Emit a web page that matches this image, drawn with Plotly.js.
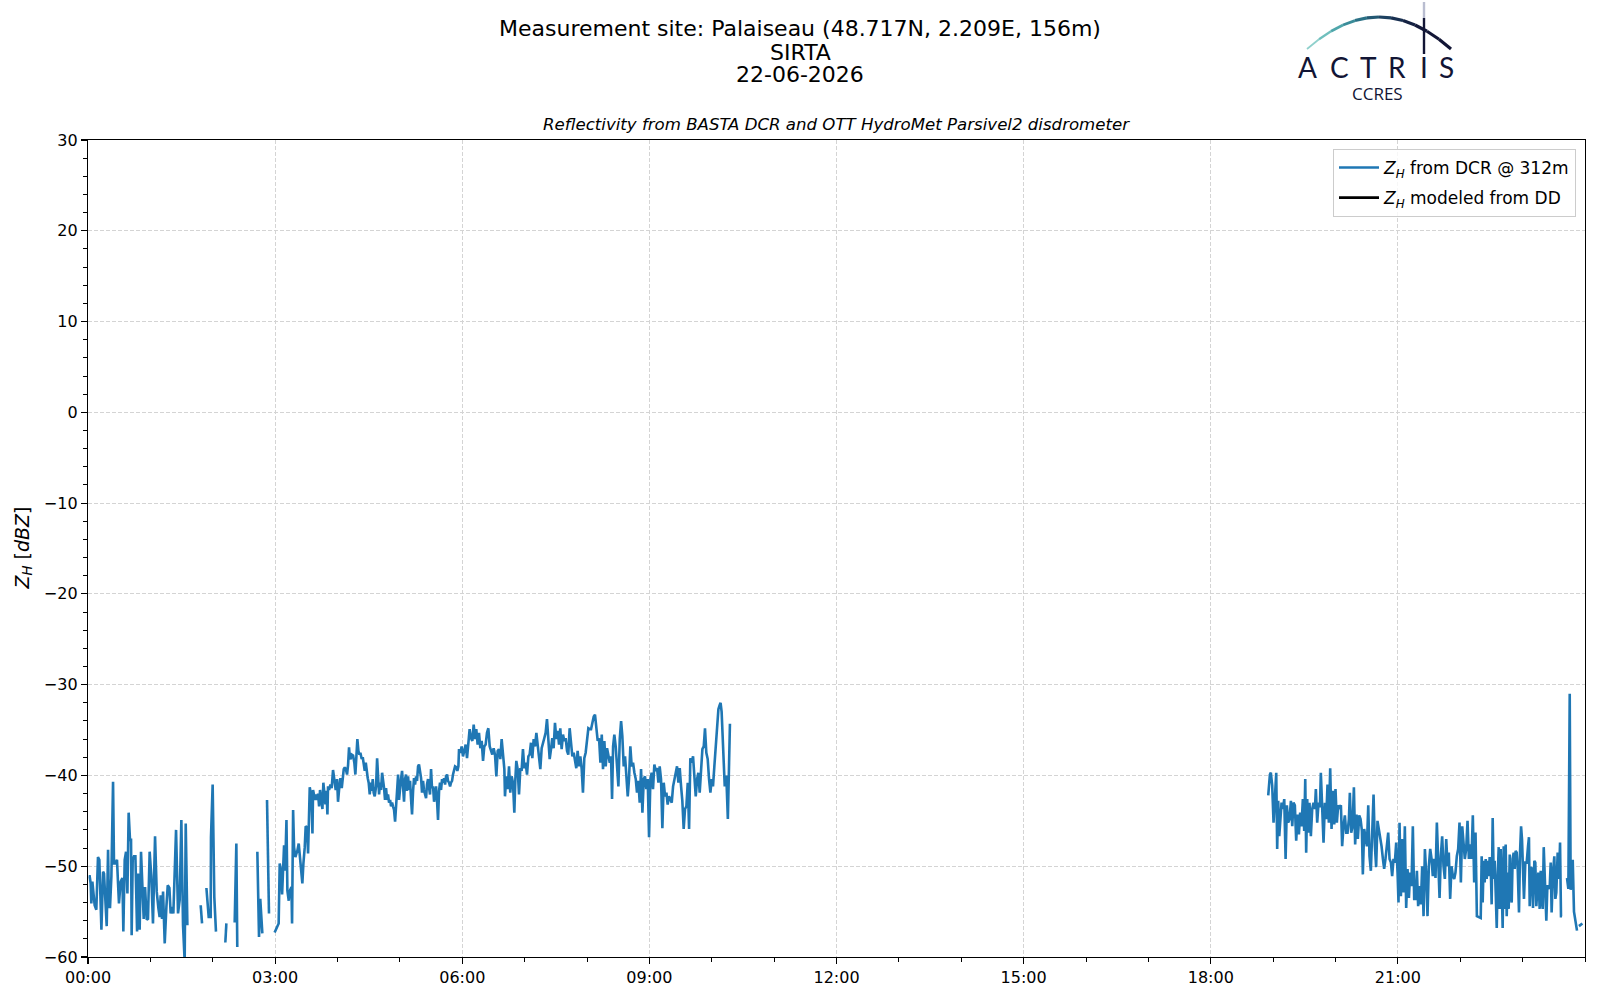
<!DOCTYPE html>
<html>
    <head>
        <meta charset="utf-8">
        <script src="https://cdn.plot.ly/plotly-3.0.1.min.js"></script>
        <style>
            body { margin: 0; background: white; }
        </style>
    </head>
    <body>
        <div id="plot"></div>
        <script type="text/javascript">
            // minutes after midnight, Z_H [dBZ]; null marks a gap in the radar record
            const earlyPairs = [
                [0.7,-51.1],[1.6,-51.1],[2.6,-51.9],[3.2,-54.1],[4.2,-51.7],[5.5,-53.0],[6.4,-54.3],[8.0,-54.8],
                [9.6,-49.0],[10.9,-49.3],[11.9,-53.4],[12.9,-57.0],[14.5,-50.6],[15.4,-50.8],[16.7,-53.7],[18.0,-56.6],
                [19.3,-48.2],[20.2,-54.5],[21.2,-54.5],[22.5,-51.1],[24.1,-40.7],[25.0,-49.7],[26.3,-49.7],[27.9,-49.3],
                [28.9,-51.9],[29.8,-54.1],[31.4,-51.7],[33.1,-51.3],[34.0,-57.2],[35.3,-49.3],[36.6,-48.4],[37.9,-53.0],
                [39.1,-44.1],[40.4,-47.1],[41.4,-47.1],[42.0,-57.6],[43.0,-49.3],[44.3,-48.9],[45.6,-48.9],[47.2,-57.2],
                [48.1,-50.8],[49.7,-57.0],[51.0,-48.4],[52.3,-52.6],[53.6,-55.8],[54.9,-52.3],[56.5,-55.9],[57.7,-55.8],
                [59.3,-48.4],[60.9,-51.1],[62.5,-56.3],[64.5,-46.7],[66.1,-52.8],[67.7,-54.6],[68.9,-55.6],[69.9,-53.2],
                [71.2,-55.8],[72.2,-52.8],[73.8,-58.5],[75.4,-54.5],[76.7,-52.1],[78.3,-52.4],[79.5,-55.2],[80.8,-54.5],
                [82.1,-55.2],[84.7,-46.0],[86.6,-55.2],[88.2,-53.7],[89.8,-44.9],[91.4,-56.5],[93.0,-60.5],[94.0,-45.3],
                [95.6,-56.5],[100,null],
                [108.4,-54.3],[109.7,-56.3],[111,null],
                [113.9,-52.4],[116.1,-55.6],[118.0,-55.6],[118.3,-46.8],[119.9,-41.0],[121.5,-53.4],[123.1,-57.2],[127,null],
                [132.1,-58.4],[133.1,-56.3],[137,null],
                [141.1,-56.2],[142.7,-47.5],[143.6,-58.9],[150,null],
                [162.9,-48.4],[164.5,-57.8],[165.7,-53.6],[167.7,-57.4],[170,null],
                [172.2,-42.7],[174.1,-55.2],[177,null]
            ];
            const risePairs = [
                [179.5,-57.3],[183.4,-56.3],[184.4,-49.7],[185.4,-50.3],[186.7,-53.1],[187.6,-50.5],[188.6,-47.7],[189.6,-50.5],
                [190.9,-44.9],[191.8,-52.7],[193.1,-53.8],[194.1,-52.7],[195.7,-52.3],[196.3,-56.3],[197.3,-43.8],[198.2,-47.9],
                [199.5,-49.0],[200.5,-48.6],[201.4,-48.3],[202.7,-47.5],[203.7,-48.6],[205.0,-50.1],[206.2,-51.9],[207.2,-49.7],
                [208.5,-47.9],[209.4,-45.6],[210.7,-45.7],[211.7,-48.6],[212.6,-42.7],[213.3,-41.3],[214.9,-42.3],[215.9,-46.4],
                [216.5,-41.6],[217.5,-42.1],[218.4,-42.7],[219.4,-42.1],[220.3,-42.7],[221.3,-42.0],[222.3,-43.4],[223.2,-41.6],
                [224.5,-42.7],[225.5,-43.7],[226.4,-40.8],[227.4,-42.3],[228.4,-43.2],[229.4,-41.7],[230.3,-44.3],[230.9,-41.2],
                [231.9,-41.6],[233.2,-41.0],[234.4,-41.4],[235.7,-39.4],[237.0,-40.8],[238.3,-41.6],[239.6,-40.4],[240.5,-42.9],
                [241.5,-41.6],[242.8,-40.3],[244.1,-41.4],[245.0,-40.4],[246.0,-39.3],[247.0,-39.1],[248.2,-39.4],[249.2,-39.9],
                [250.2,-38.8],[251.1,-36.9],[251.8,-38.0],[252.7,-38.2],[253.7,-37.7],[255.0,-37.8],[256.2,-38.6],[257.2,-39.9],
                [258.2,-38.4],[259.1,-36.0],[260.1,-37.3],[261.1,-37.7],[262.0,-37.5],[263.3,-38.2],[264.3,-38.0],[265.2,-39.0],
                [266.2,-39.5],[267.2,-38.6],[268.1,-39.7],[269.1,-40.3],[270.0,-40.8],[271.0,-42.1],[272.0,-40.8],[272.9,-41.7],
                [273.9,-40.4],[274.8,-41.9],[275.8,-42.3],[277.1,-41.2],[278.1,-38.1],[279.0,-40.4],[280.0,-42.1],[280.9,-40.8],
                [281.9,-41.6],[282.9,-39.7],[283.8,-40.3],[284.8,-41.4],[285.7,-42.7],[286.7,-41.4],[287.7,-42.7],[288.6,-42.1],
                [289.6,-43.0],[290.6,-42.7],[291.5,-43.4],[292.5,-43.0],[293.4,-43.4],[294.4,-43.8],[295.4,-45.1],[296.3,-43.4],
                [297.3,-42.7],[298.3,-39.9],[299.2,-42.7],[300.2,-41.2],[301.1,-40.4],[302.1,-39.5],[303.1,-41.2],[304.0,-42.9],
                [305.0,-40.4],[305.9,-39.9],[306.9,-41.7],[307.9,-40.1],[308.8,-41.6],[309.8,-40.6],[310.8,-42.7],[311.7,-44.3],
                [312.7,-41.7],[313.6,-40.3],[314.6,-41.0],[315.6,-40.1],[316.5,-40.6],[317.5,-39.0],[318.4,-38.8],[319.4,-39.5],
                [320.4,-40.3],[321.3,-41.9],[322.3,-40.6],[323.2,-41.6],[324.2,-42.3],[325.2,-42.5],[326.1,-41.0],[327.1,-40.4],
                [328.1,-41.4],[329.0,-42.1],[330.0,-39.3],[330.9,-41.4],[331.9,-41.2],[332.9,-42.9],[333.8,-42.1],[334.8,-41.2],
                [335.8,-42.9],[336.7,-44.9],[337.7,-41.7],[338.6,-40.8],[339.6,-41.6],[340.6,-40.4],[341.5,-40.8],[342.5,-40.3],
                [343.5,-41.0],[344.4,-40.1],[345.4,-39.9],[346.3,-40.6],[347.3,-40.8],[348.3,-41.2],[349.2,-40.8],[350.2,-40.6],
                [351.1,-39.9],[352.1,-39.5],[353.1,-39.0],[354.4,-39.1],[355.3,-39.5],[356.3,-39.0],[356.9,-37.1]
            ];
            const dayPairs = [
                [358.2,-37.5],[359.4,-36.8],[360.7,-37.9],[362.0,-37.3],[363.3,-36.6],[364.6,-38.1],[365.9,-36.4],[367.1,-34.9],
                [368.4,-35.9],[369.7,-36.2],[371.0,-34.4],[372.3,-36.0],[373.5,-34.9],[374.8,-36.6],[376.1,-35.3],[377.4,-37.0],
                [378.7,-36.2],[380.0,-38.4],[381.2,-36.8],[382.5,-36.6],[383.8,-35.3],[385.1,-34.8],[386.4,-36.8],[387.7,-37.3],
                [388.9,-37.7],[390.2,-37.0],[391.5,-37.7],[392.8,-40.1],[394.1,-37.3],[395.3,-37.1],[396.6,-38.2],[397.9,-36.0],
                [399.2,-37.9],[400.5,-39.3],[401.1,-42.3],[402.4,-40.1],[403.7,-41.5],[405.0,-39.0],[406.2,-41.9],[407.5,-40.1],
                [408.8,-40.8],[410.1,-44.1],[411.1,-40.4],[412.0,-38.4],[413.3,-39.3],[414.6,-42.1],[415.9,-39.2],[417.1,-39.5],
                [418.4,-37.1],[419.7,-39.2],[421.0,-38.6],[422.3,-39.9],[423.6,-37.9],[424.8,-37.7],[426.1,-36.4],[427.4,-38.1],
                [428.7,-36.0],[430.0,-36.8],[431.3,-35.3],[432.5,-36.8],[433.8,-37.9],[435.1,-39.3],[436.4,-37.0],[437.7,-36.2],
                [438.9,-35.9],[440.2,-35.3],[441.5,-33.8],[442.8,-36.0],[444.1,-38.2],[445.4,-37.1],[446.6,-35.9],[447.9,-37.0],
                [449.2,-34.2],[450.5,-36.0],[451.8,-35.1],[453.1,-36.6],[454.3,-34.8],[455.6,-37.1],[456.9,-35.5],[458.2,-36.2],
                [459.5,-35.9],[460.8,-37.3],[462.0,-37.7],[463.3,-34.8],[464.6,-36.4],[465.9,-37.9],[467.2,-37.5],[468.4,-38.4],
                [469.7,-39.2],[471.0,-37.3],[472.3,-39.0],[473.6,-37.9],[474.9,-39.3],[476.1,-41.9],[477.4,-38.1],[478.7,-37.5],
                [480.0,-35.7],[481.3,-34.8],[482.6,-34.9],[483.9,-34.9],[485.2,-34.2],[486.5,-33.5],[487.7,-33.3],[489.0,-34.6],
                [490.3,-36.2],[491.6,-35.9],[492.9,-38.6],[494.2,-35.5],[495.4,-39.3],[496.7,-36.2],[498.0,-39.0],[499.3,-37.0],
                [500.6,-38.1],[501.9,-38.6],[503.1,-37.9],[504.1,-42.6],[505.1,-36.8],[506.3,-35.5],[507.6,-36.8],[508.9,-38.6],
                [510.2,-41.2],[511.5,-36.0],[512.8,-34.0],[514.0,-35.7],[515.3,-39.0],[516.6,-37.9],[517.9,-40.1],[519.2,-42.3],
                [520.4,-40.4],[521.7,-36.8],[523.0,-39.0],[524.3,-38.6],[525.6,-39.7],[526.9,-40.4],[528.1,-41.9],[529.4,-40.6],
                [530.7,-43.0],[532.0,-39.3],[533.3,-44.1],[534.6,-40.4],[535.8,-40.1],[537.1,-41.5],[538.4,-40.4],[539.7,-46.8],
                [541.0,-40.4],[542.2,-39.7],[543.5,-41.5],[544.8,-38.8],[546.1,-39.5],[547.4,-39.2],[548.7,-40.8],[549.9,-39.0],
                [551.2,-40.4],[552.5,-45.8],[553.8,-40.8],[555.1,-42.3],[556.4,-41.9],[557.6,-43.2],[558.9,-42.3],[560.2,-42.6],
                [561.5,-43.0],[562.8,-41.2],[564.1,-40.4],[565.3,-40.1],[566.6,-39.0],[567.9,-40.8],[569.2,-39.2],[570.5,-41.2],
                [571.7,-42.8],[573.0,-45.9],[574.3,-43.7],[575.6,-43.4],[576.9,-40.8],[578.2,-45.9],[579.4,-38.1],[580.7,-38.6],
                [582.0,-37.9],[583.3,-40.1],[584.6,-42.3],[585.9,-40.4],[587.1,-39.7],[588.4,-41.9],[589.7,-38.6],[591.0,-37.1],
                [592.3,-36.8],[593.5,-34.8],[594.8,-37.5],[596.1,-38.2],[597.4,-40.4],[598.7,-41.9],[600.0,-40.4],[601.2,-41.2],
                [602.5,-39.0],[603.8,-37.1],[605.1,-34.9],[606.4,-32.7],[607.5,-32.3],[608.5,-32.0],[609.5,-33.0],[611.0,-38.0],
                [612.5,-41.2],[614.0,-40.0],[615.5,-44.8],[617.5,-34.3],[620,null]
            ];
            const eveningPairs = [
                [1135.3,-42.2],[1136.9,-39.9],[1137.8,-39.7],[1139.1,-41.1],[1140.4,-45.2],[1141.7,-43.0],[1143.0,-39.7],[1143.9,-48.1],
                [1144.9,-42.8],[1145.9,-46.7],[1146.8,-45.2],[1148.1,-43.0],[1149.4,-43.7],[1150.7,-42.6],[1152.0,-49.2],[1153.2,-43.3],
                [1154.5,-45.2],[1155.8,-44.8],[1157.1,-42.8],[1158.4,-45.6],[1159.6,-43.0],[1160.9,-43.3],[1162.2,-47.2],[1163.5,-44.3],
                [1164.8,-46.5],[1166.0,-44.1],[1167.3,-45.6],[1168.6,-42.6],[1169.9,-46.1],[1170.9,-40.4],[1171.8,-48.5],[1172.8,-42.6],
                [1173.7,-46.3],[1175.0,-43.0],[1176.3,-46.7],[1177.6,-43.7],[1178.9,-43.0],[1180.2,-43.7],[1181.1,-41.5],[1182.4,-45.2],
                [1183.7,-43.0],[1185.0,-43.5],[1185.9,-39.7],[1187.2,-44.8],[1188.5,-47.4],[1189.8,-43.0],[1191.1,-44.8],[1192.3,-41.0],
                [1193.6,-45.2],[1194.9,-39.2],[1196.2,-45.9],[1197.5,-41.7],[1198.8,-45.4],[1200.0,-41.5],[1201.3,-45.2],[1202.6,-43.3],
                [1203.9,-43.5],[1205.2,-43.3],[1206.4,-47.8],[1207.7,-45.6],[1209.0,-44.4],[1210.3,-46.3],[1211.6,-46.3],[1212.9,-44.8],
                [1213.8,-41.9],[1215.1,-46.3],[1216.4,-45.6],[1217.7,-41.3],[1218.9,-47.6],[1220.2,-44.3],[1221.5,-47.0],[1222.8,-44.4],
                [1224.1,-44.8],[1225.4,-46.1],[1226.3,-50.9],[1227.6,-45.9],[1228.9,-47.0],[1230.2,-47.8],[1231.5,-43.3],[1232.7,-48.9],
                [1234.0,-50.5],[1235.3,-47.0],[1236.6,-42.1],[1237.9,-47.8],[1239.1,-50.1],[1240.4,-45.0],[1241.7,-45.9],[1243.0,-47.2],
                [1244.3,-47.8],[1245.6,-49.2],[1246.8,-50.3],[1248.1,-49.2],[1249.4,-47.8],[1250.7,-46.3],[1252.0,-49.2],[1253.3,-49.6],
                [1254.5,-51.1],[1255.8,-49.2],[1257.1,-49.6],[1258.4,-47.4],[1259.7,-50.7],[1260.6,-54.0],[1261.6,-45.2],[1262.9,-53.3],
                [1264.2,-47.0],[1265.4,-52.9],[1266.7,-45.6],[1268.0,-54.6],[1269.3,-50.3],[1270.6,-53.5],[1271.8,-50.7],[1273.1,-52.2],
                [1274.4,-45.6],[1275.7,-53.6],[1277.0,-53.6],[1278.3,-50.5],[1279.5,-54.4],[1280.8,-52.2],[1282.1,-54.2],[1283.4,-50.0],
                [1284.7,-55.5],[1286.0,-48.1],[1287.2,-50.7],[1288.5,-55.5],[1289.8,-50.0],[1291.1,-48.1],[1292.4,-49.2],[1293.6,-51.1],
                [1294.9,-49.2],[1296.2,-51.3],[1297.5,-45.2],[1298.8,-50.0],[1300.1,-53.5],[1301.3,-48.9],[1302.6,-46.7],[1303.9,-50.0],
                [1305.2,-51.4],[1306.5,-47.0],[1307.8,-50.0],[1309.0,-48.5],[1310.3,-53.6],[1311.6,-50.0],[1312.9,-51.1],[1314.2,-51.4],
                [1315.4,-50.7],[1316.7,-48.9],[1318.0,-48.1],[1319.3,-45.2],[1320.6,-51.8],[1321.9,-45.6],[1323.1,-47.8],[1324.4,-49.2],
                [1325.7,-48.1],[1327.0,-45.0],[1328.3,-49.2],[1329.6,-47.6],[1330.8,-49.2],[1332.1,-44.4],[1333.4,-51.8],[1334.7,-46.3],
                [1336.0,-55.5]
            ];
            const latePairs = [
                [1339.7,-55.7],[1340.6,-48.9],[1341.6,-54.0],[1342.5,-49.4],[1343.5,-51.8],[1344.5,-49.2],[1345.4,-51.4],[1346.4,-49.4],
                [1347.4,-51.1],[1348.3,-49.0],[1349.3,-50.0],[1350.2,-54.2],[1351.2,-44.7],[1352.2,-51.4],[1353.1,-49.4],[1354.1,-52.9],
                [1355.1,-56.8],[1356.0,-51.1],[1357.0,-47.9],[1357.9,-54.7],[1358.9,-48.1],[1359.9,-52.2],[1360.8,-56.8],[1361.8,-47.8],
                [1362.7,-54.7],[1363.7,-47.6],[1364.7,-55.5],[1365.6,-50.7],[1366.6,-54.7],[1367.6,-48.7],[1368.5,-53.3],[1369.5,-54.0],
                [1370.4,-49.2],[1371.4,-48.5],[1372.4,-50.3],[1373.3,-48.3],[1374.3,-48.5],[1375.2,-50.0],[1376.5,-55.1],[1377.5,-48.5],
                [1378.5,-45.6],[1379.4,-47.0],[1380.4,-50.0],[1381.3,-53.6],[1382.6,-49.6],[1383.9,-49.6],[1385.2,-47.8],[1386.1,-46.8],
                [1386.8,-54.4],[1388.1,-50.1],[1389.0,-50.3],[1390.0,-54.6],[1391.3,-49.4],[1392.2,-49.6],[1393.2,-54.4],[1394.2,-52.2],
                [1395.1,-50.7],[1396.4,-54.7],[1397.4,-50.5],[1398.3,-53.6],[1399.3,-54.7],[1400.3,-47.9],[1401.5,-51.4],[1402.8,-56.0],
                [1403.8,-52.2],[1404.7,-52.2],[1406.0,-52.5],[1407.0,-49.6],[1407.9,-55.1],[1409.2,-50.7],[1410.5,-48.9],[1411.5,-53.6],
                [1412.4,-52.9],[1413.7,-48.5],[1415.0,-51.4],[1416.0,-47.4],[1416.9,-55.5],[1417.9,-55.5],[1420,null],
                [1422.7,-51.3],[1424.0,-52.5],[1425.3,-31.0],[1426.2,-52.6],[1427.3,-52.0],[1428.2,-49.3],[1429.4,-55.0],[1432.3,-57.1],[1433,null],
                [1434.2,-56.6],[1437.5,-56.3]
            ];
            // modelled reflectivity from the disdrometer: no valid value on this day
            const ddPairs = [[0, null]];

            const tickHours = [0, 3, 6, 9, 12, 15, 18, 21];
            const tickLabels = ['00:00', '03:00', '06:00', '09:00', '12:00', '15:00', '18:00', '21:00'];

            const day0 = Date.UTC(2026, 5, 22);
            function stamp(m) {
                return new Date(day0 + Math.round(m * 60000)).toISOString().replace('T', ' ').slice(0, 19);
            }

            const dcr = [].concat(earlyPairs, risePairs, dayPairs, eveningPairs, latePairs);

            // figure pixels -> paper coordinates (plot area 88..1585 x 140..957)
            const L = 88, T = 140, W = 1497, H = 817;
            const px = x => (x - L) / W;
            const py = y => (T + H - y) / H;

            // ACTRIS logo arc, drawn in short pieces to fake the colour gradient
            const arcColours = ['#8fd0cc', '#6fbfbd', '#4fa6ab', '#3a8c99', '#2b7186', '#235873', '#1d4161', '#182f50', '#152243', '#13193a', '#121636', '#121535'];
            const logoShapes = [];
            const p0 = [1307, 49], p1 = [1379, -15], p2 = [1451, 49];
            for (let i = 0; i < arcColours.length; i++) {
                const a = i / arcColours.length, b = (i + 1) / arcColours.length;
                const q = t => [
                    (1 - t) * (1 - t) * p0[0] + 2 * (1 - t) * t * p1[0] + t * t * p2[0],
                    (1 - t) * (1 - t) * p0[1] + 2 * (1 - t) * t * p1[1] + t * t * p2[1]
                ];
                const s = q(a), e = q(b);
                logoShapes.push({
                    type: 'line', xref: 'paper', yref: 'paper',
                    x0: px(s[0]), y0: py(s[1]), x1: px(e[0]), y1: py(e[1]),
                    line: {color: arcColours[i], width: 1.2 + 2.0 * Math.sin(Math.PI * Math.min(b, 0.5)) }
                });
            }
            logoShapes.push({type: 'line', xref: 'paper', yref: 'paper', x0: px(1424), y0: py(2), x1: px(1424), y1: py(18),
                             line: {color: '#b9bdd0', width: 2.4}});
            logoShapes.push({type: 'line', xref: 'paper', yref: 'paper', x0: px(1424), y0: py(18), x1: px(1424), y1: py(54),
                             line: {color: '#121535', width: 2.4}});

            const logoLetters = ['A', 'C', 'T', 'R', 'I', 'S'];
            const logoX = [1307, 1339.5, 1368, 1397, 1424, 1446.5];

            const annotations = [
                {text: 'Measurement site: Palaiseau (48.717N, 2.209E, 156m)', x: px(800), y: py(29), font: {size: 22}},
                {text: 'SIRTA', x: px(800), y: py(52), font: {size: 22}},
                {text: '22-06-2026', x: px(800), y: py(74.5), font: {size: 22}},
                {text: '<i>Reflectivity from BASTA DCR and OTT HydroMet Parsivel2 disdrometer</i>', x: 0.5, y: py(125), font: {size: 16.6}},
                {text: '<i>Z</i><sub><i>H</i></sub> [<i>dBZ</i>]', x: px(23), y: 0.5, textangle: -90, font: {size: 19}},
                {text: 'CCRES', x: px(1377), y: py(93), font: {family: 'Open Sans', size: 17, color: '#121535'}}
            ];
            logoLetters.forEach((c, i) => annotations.push({
                text: c, x: px(logoX[i]), y: py(66.5), font: {family: 'Lato', size: 28, color: '#121535'}
            }));
            annotations.forEach(a => {
                a.xref = 'paper'; a.yref = 'paper';
                a.xanchor = 'center'; a.yanchor = 'middle';
                a.showarrow = false;
            });

            const traces = [
                {
                    x: dcr.map(p => stamp(p[0])), y: dcr.map(p => p[1]),
                    mode: 'lines', name: '<i>Z</i><sub><i>H</i></sub> from DCR @ 312m',
                    legendgroup: 'dcr',
                    line: {color: '#1f77b4', width: 2.6}, connectgaps: false
                },
                {
                    x: ddPairs.map(p => stamp(p[0])), y: ddPairs.map(p => p[1]),
                    mode: 'lines', name: '<i>Z</i><sub><i>H</i></sub> modeled from DD',
                    legendgroup: 'dd',
                    line: {color: 'black', width: 2.6}
                }
            ];

            const axisStyle = {
                showline: true, linecolor: 'black', linewidth: 1.2, mirror: true,
                ticks: 'outside', ticklen: 6, tickwidth: 1.2, tickcolor: 'black',
                showgrid: true, gridcolor: '#d4d4d4', griddash: '4px,2px', gridwidth: 1,
                zeroline: false, tickfont: {size: 16, color: 'black'}
            };

            const layout = {
                width: 1600, height: 1000,
                margin: {l: L, r: 1600 - L - W, t: T, b: 1000 - T - H},
                paper_bgcolor: 'white', plot_bgcolor: 'white',
                font: {family: 'DejaVu Sans', color: 'black', size: 16},
                showlegend: true,
                legend: {
                    x: px(1576), xanchor: 'right', y: py(149), yanchor: 'top',
                    bgcolor: 'rgba(255,255,255,0.8)', bordercolor: '#cccccc', borderwidth: 1,
                    font: {size: 17}, traceorder: 'grouped', tracegroupgap: 5, itemwidth: 40
                },
                xaxis: Object.assign({}, axisStyle, {
                    type: 'date', range: [stamp(0), stamp(1440)],
                    tickmode: 'array',
                    tickvals: tickHours.map(h => stamp(h * 60)),
                    ticktext: tickLabels,
                    minor: {tickmode: 'linear', tick0: stamp(0), dtick: 3600000, ticks: 'outside', ticklen: 3.5, tickwidth: 1, tickcolor: 'black', showgrid: false}
                }),
                yaxis: Object.assign({}, axisStyle, {
                    range: [-60, 30], tick0: 0, dtick: 10,
                    minor: {dtick: 2, ticks: 'outside', ticklen: 3.5, tickwidth: 1, tickcolor: 'black', showgrid: false}
                }),
                annotations: annotations,
                shapes: logoShapes
            };

            Plotly.newPlot('plot', traces, layout, {displayModeBar: false, staticPlot: true});
        </script>
    </body>
</html>
